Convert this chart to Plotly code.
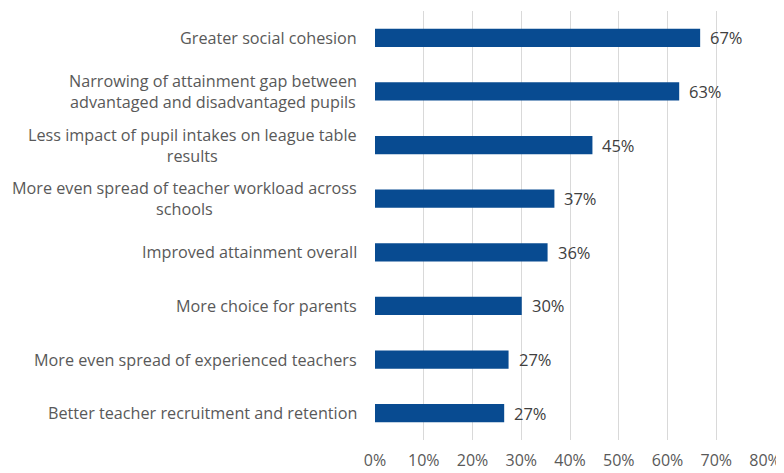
import plotly.graph_objects as go

categories = [
    "Greater social cohesion",
    "Narrowing of attainment gap between<br>advantaged and disadvantaged pupils",
    "Less impact of pupil intakes on league table<br>results",
    "More even spread of teacher workload across<br>schools",
    "Improved attainment overall",
    "More choice for parents",
    "More even spread of experienced teachers",
    "Better teacher recruitment and retention",
]
values = [66.7, 62.4, 44.6, 36.8, 35.4, 30.1, 27.4, 26.5]
value_labels = ["67%", "63%", "45%", "37%", "36%", "30%", "27%", "27%"]
tick_vals = [0, 10, 20, 30, 40, 50, 60, 70, 80]
tick_text = ["0%", "10%", "20%", "30%", "40%", "50%", "60%", "70%", "80%"]

FONT = "Open Sans, Liberation Sans, Arial, sans-serif"

fig = go.Figure()
fig.add_trace(go.Bar(
    x=values,
    y=categories,
    orientation="h",
    marker=dict(color="#084B91", line=dict(width=0)),
    hoverinfo="skip",
))

annotations = []
for c in categories:
    annotations.append(dict(
        x=0, xref="paper", y=c, yref="y", text=c,
        xanchor="right", yanchor="middle", align="center",
        xshift=-16, showarrow=False,
        font=dict(family=FONT, size=16.2, color="#595959"),
    ))
for c, v, t in zip(categories, values, value_labels):
    annotations.append(dict(
        x=v, xref="x", y=c, yref="y", text=t,
        xanchor="left", yanchor="middle", xshift=8, showarrow=False,
        font=dict(family=FONT, size=16.5, color="#404040"),
    ))

# page body has an 8px margin, so the figure is sized to fit inside the window
fig.update_layout(
    width=776, height=465,
    margin=dict(l=367, r=19, t=3, b=33, pad=0),
    paper_bgcolor="white", plot_bgcolor="white",
    showlegend=False,
    bargap=0.66,
    annotations=annotations,
    xaxis=dict(
        range=[0, 80], tickvals=tick_vals, ticktext=tick_text,
        showgrid=True, gridcolor="#D9D9D9", gridwidth=1,
        zeroline=False, showline=False, automargin=False,
        ticks="outside", ticklen=6, tickcolor="rgba(0,0,0,0)",
        tickfont=dict(family=FONT, size=16, color="#595959"),
        fixedrange=True,
    ),
    yaxis=dict(
        categoryorder="array", categoryarray=categories,
        autorange="reversed", showticklabels=False, automargin=False,
        showgrid=False, zeroline=False, showline=False, ticks="",
        fixedrange=True,
    ),
)

fig.write_html("out.html")
